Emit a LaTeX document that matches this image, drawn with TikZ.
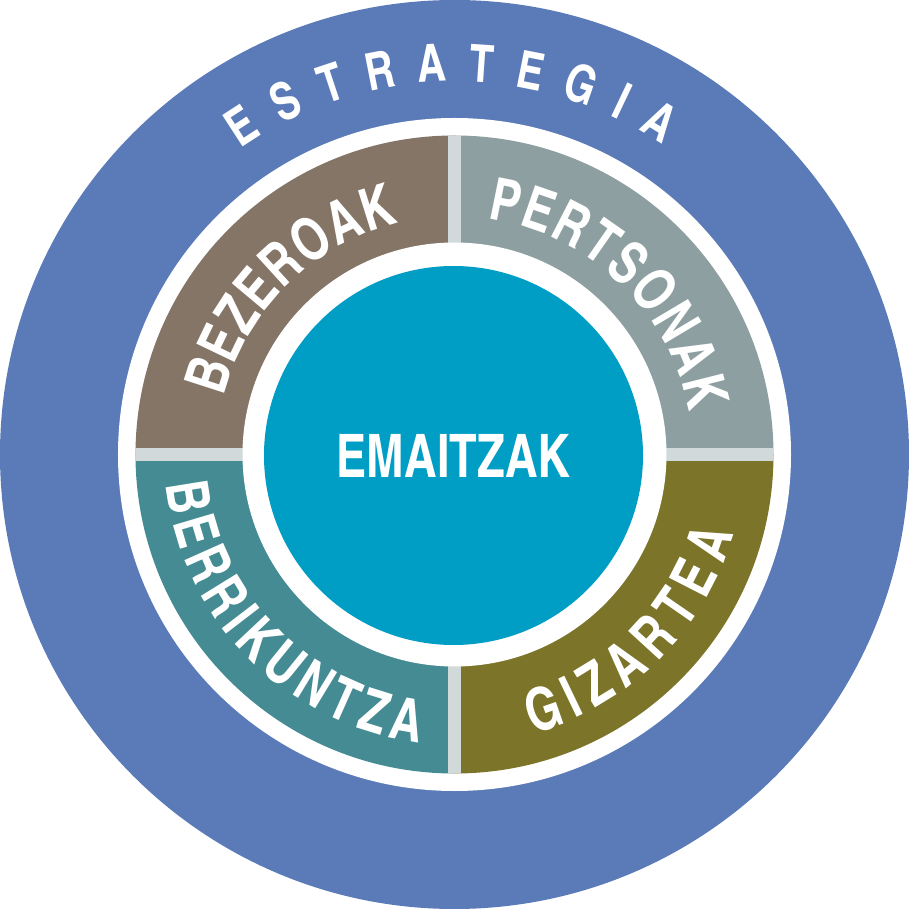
\documentclass[tikz,border=0pt]{standalone}
\usepackage{fontspec}
\setmainfont{Liberation Sans}
\font\quadfnt="[texgyreheroscn-bold.otf]:extend=0.93" at 59pt
\font\stratfnt="[texgyreheroscn-bold.otf]:extend=0.93" at 52pt
\font\centerfnt="[texgyreheroscn-bold.otf]:extend=0.92" at 60pt
\definecolor{outerblue}{HTML}{5A7BB8}
\definecolor{qbrown}{HTML}{857567}
\definecolor{qgray}{HTML}{8D9FA0}
\definecolor{qolive}{HTML}{7B7429}
\definecolor{qteal}{HTML}{448B93}
\definecolor{centerblue}{HTML}{009DC5}
\definecolor{gapgray}{HTML}{D1D9DB}
\newsavebox{\arcbox}
\newlength{\arcw}
% #1 name prefix, #2 font, #3 baseline radius (pt), #4 middle angle,
% #5 direction (1 = counter-clockwise, -1 = clockwise), #6 tracking (pt), #7 letters
\newcommand{\arcletters}[7]{%
  \gdef\arctotal{0}%
  \foreach \ch in {#7} {%
    \sbox{\arcbox}{#2\ch}\setlength{\arcw}{\wd\arcbox}%
    \pgfmathsetmacro{\tmp}{\arctotal + \arcw + #6}%
    \xdef\arctotal{\tmp}%
  }%
  \pgfmathsetmacro{\tmp}{#4 - (#5)*((\arctotal - #6)/2)/#3*180/pi}%
  \xdef\arcang{\tmp}%
  \foreach \ch [count=\i] in {#7} {%
    \sbox{\arcbox}{#2\ch}\setlength{\arcw}{\wd\arcbox}%
    \pgfmathsetmacro{\cang}{\arcang + (#5)*(\arcw/2)/#3*180/pi}%
    \pgfmathsetmacro{\crot}{\cang + (#5)*90}%
    \node[letter, font=#2, rotate=\crot] (#1\i) at (\cang:#3pt) {\ch};
    \pgfmathsetmacro{\tmp}{\arcang + (#5)*(\arcw + #6)/#3*180/pi}%
    \xdef\arcang{\tmp}%
  }%
}
\tikzset{
  letter/.style={text=white, anchor=base, inner sep=0pt, outer sep=0pt}
}
\begin{document}
\begin{tikzpicture}[x=1pt,y=1pt]
\useasboundingbox (-454.5pt,-454.5pt) rectangle (454.5pt,454.5pt);
% outer strategy disc
\fill[outerblue] (0,0) circle (454.5pt);
\fill[white] (0,0) circle (336.5pt);
% quadrants
\fill[qbrown] (0,0) -- (90:319pt) arc[start angle=90, end angle=180, radius=319pt] -- cycle;
\fill[qgray] (0,0) -- (0:319pt) arc[start angle=0, end angle=90, radius=319pt] -- cycle;
\fill[qteal] (0,0) -- (180:319pt) arc[start angle=180, end angle=270, radius=319pt] -- cycle;
\fill[qolive] (0,0) -- (270:319pt) arc[start angle=270, end angle=360, radius=319pt] -- cycle;
% gaps
\begin{scope}
  \clip (0,0) circle (319pt);
  \fill[gapgray] (-6.5pt,-330pt) rectangle (6.5pt,330pt);
  \fill[gapgray] (-330pt,-6.5pt) rectangle (330pt,6.5pt);
\end{scope}
\fill[white] (0,0) circle (212pt);
% centre
\node[circle, fill=centerblue, minimum size=379pt, inner sep=0pt, text=white,
      font=\centerfnt] (emaitzak) at (-1pt,-1pt) {EMAITZAK};
% curved labels
\arcletters{estr}{\stratfnt}{373}{90.5}{-1}{21.5}{E,S,T,R,A,T,E,G,I,A}
\arcletters{bez}{\quadfnt}{238}{134.8}{-1}{1}{B,E,Z,E,R,O,A,K}
\arcletters{per}{\quadfnt}{238}{46.2}{-1}{2}{P,E,R,T,S,O,N,A,K}
\arcletters{ber}{\quadfnt}{290}{224.5}{1}{6.6}{B,E,R,R,I,K,U,N,T,Z,A}
\arcletters{giz}{\quadfnt}{290}{-45.1}{1}{9.4}{G,I,Z,A,R,T,E,A}
\end{tikzpicture}
\end{document}
